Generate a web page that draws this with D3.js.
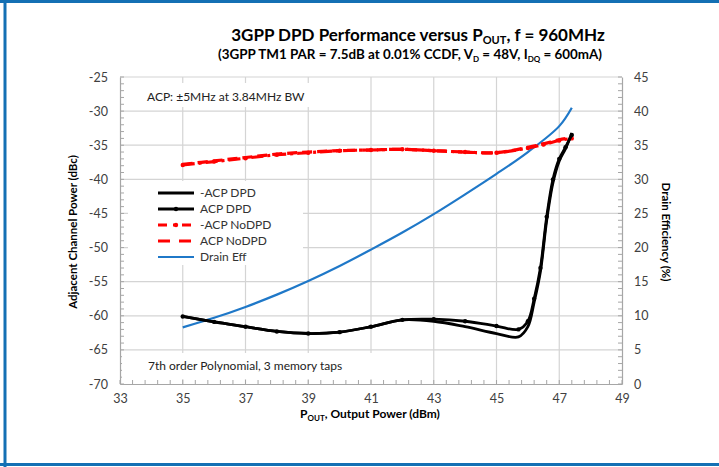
<!DOCTYPE html>
<html><head><meta charset="utf-8">
<script src="https://cdn.jsdelivr.net/npm/d3@7/dist/d3.min.js"></script>
<style>
body{margin:0;background:#fff;}
svg{display:block;font-family:Lato,"Open Sans",sans-serif;}
</style></head>
<body><svg id="c" width="719" height="467"></svg>
<script>
// ---- data ----
const xTicks = [33,35,37,39,41,43,45,47,49];
const yLeftTicks = [-70,-65,-60,-55,-50,-45,-40,-35,-30,-25];
const yRightTicks = [0,5,10,15,20,25,30,35,40,45];

const dpdPout = [35,36,37,38,39,40,41,42,43,44,45,45.7,46.0,46.2,46.4,46.6,46.8,47.0,47.2,47.4];
const acpDpdNeg = [-60.1,-60.9,-61.6,-62.3,-62.6,-62.4,-61.6,-60.6,-60.8,-61.6,-62.6,-63.1,-61.6,-58.0,-53.5,-46.0,-40.5,-37.3,-35.5,-33.2];
const acpDpdPos = [-60.1,-60.9,-61.6,-62.3,-62.6,-62.4,-61.6,-60.6,-60.5,-60.8,-61.5,-62.0,-60.8,-57.5,-53.0,-45.5,-40.0,-37.0,-35.3,-33.5];

const noDpdPout = [35,36,37,38,39,40,41,42,43,44,45,46,46.5,47,47.4];
const acpNoDpdNeg = [-37.9,-37.4,-36.9,-36.4,-36.1,-35.8,-35.7,-35.6,-35.8,-36.0,-36.1,-35.4,-34.9,-34.3,-34.0];
const acpNoDpdPos = [-37.8,-37.3,-36.8,-36.3,-36.0,-35.8,-35.7,-35.6,-35.8,-36.0,-36.1,-35.3,-34.8,-34.2,-33.9];

const effPout = [35,36,37,38,39,40,41,42,43,44,45,46,47,47.4];
const drainEff = [8.3,9.7,11.3,13.1,15.1,17.3,19.7,22.2,24.9,27.8,30.8,34.0,37.8,40.5];

// ---- layout ----
const svg = d3.select("#c");
const x = d3.scaleLinear().domain([33,49]).range([120,622]);
const yL = d3.scaleLinear().domain([-70,-25]).range([384,77]);
const yR = d3.scaleLinear().domain([0,45]).range([384,77]);
const gridC = "#d4d4d4", axC = "#a6a6a6", txtC = "#404040";

// frame
svg.append("rect").attr("x",0).attr("y",0).attr("width",719).attr("height",467).attr("fill","#fff");
svg.append("line").attr("x1",0).attr("x2",719).attr("y1",1.5).attr("y2",1.5).attr("stroke","#1470b4").attr("stroke-width",3);
svg.append("line").attr("x1",5).attr("x2",5).attr("y1",0).attr("y2",467).attr("stroke","#1470b4").attr("stroke-width",3);
svg.append("line").attr("x1",0).attr("x2",719).attr("y1",464.5).attr("y2",464.5).attr("stroke","#1470b4").attr("stroke-width",3);

// grid
const g = svg.append("g");
g.selectAll(".vg").data(xTicks.slice(1,-1)).join("line")
  .attr("x1",d=>x(d)).attr("x2",d=>x(d)).attr("y1",yL(-25)).attr("y2",yL(-70))
  .attr("stroke",gridC).attr("stroke-width",1.2);
g.selectAll(".hg").data(yLeftTicks.slice(1)).join("line")
  .attr("x1",x(33)).attr("x2",x(49)).attr("y1",d=>yL(d)).attr("y2",d=>yL(d))
  .attr("stroke",gridC).attr("stroke-width",1.2);

// axes
const fmt = d=>String(d);
const axL = d3.axisLeft(yL).tickValues(yLeftTicks).tickFormat(fmt).tickSize(0).tickPadding(12);
const axR = d3.axisRight(yR).tickValues(yRightTicks).tickFormat(fmt).tickSize(0).tickPadding(12);
const axB = d3.axisBottom(x).tickValues(xTicks).tickFormat(fmt).tickSize(0).tickPadding(10);
function style(sel){
  sel.select(".domain").attr("stroke",axC).attr("stroke-width",1.2);
  sel.selectAll("text").attr("fill",txtC).attr("font-size","12.5px").attr("font-family","Lato,sans-serif");
}
svg.append("g").attr("transform",`translate(${x(33)},0)`).call(axL).call(style);
svg.append("g").attr("transform",`translate(${x(49)},0)`).call(axR).call(style);
svg.append("g").attr("transform",`translate(0,${yL(-70)})`).call(axB).call(style);

// minor ticks
const minorL = d3.range(-70,-24,1), minorR = d3.range(0,46,1), minorX = d3.range(33,49.01,0.4);
svg.append("g").selectAll("line").data(minorL).join("line")
  .attr("x1",x(33)).attr("x2",x(33)+4).attr("y1",d=>yL(d)).attr("y2",d=>yL(d)).attr("stroke",axC);
svg.append("g").selectAll("line").data(minorR).join("line")
  .attr("x1",x(49)).attr("x2",x(49)-4).attr("y1",d=>yR(d)).attr("y2",d=>yR(d)).attr("stroke",axC);
svg.append("g").selectAll("line").data(minorX).join("line")
  .attr("x1",d=>x(d)).attr("x2",d=>x(d)).attr("y1",yL(-70)).attr("y2",yL(-70)-4).attr("stroke",axC);

// annotation boxes (cover grid)
svg.append("rect").attr("x",124).attr("y",83).attr("width",222).attr("height",24).attr("fill","#fff");
svg.append("text").attr("x",147).attr("y",101).attr("font-size","12px").attr("fill","#222").text("ACP: ±5MHz at 3.84MHz BW");
svg.append("rect").attr("x",122).attr("y",353).attr("width",290).attr("height",26).attr("fill","#fff");
svg.append("text").attr("x",148).attr("y",370).attr("font-size","12px").attr("fill","#222").text("7th order Polynomial, 3 memory taps");

// lines
const crv = d3.curveCatmullRom.alpha(0.5);
const lineL = (xs,ys)=>d3.line().curve(crv).x((d,i)=>x(xs[i])).y(d=>yL(d))(ys);
const lineR = (xs,ys)=>d3.line().curve(crv).x((d,i)=>x(xs[i])).y(d=>yR(d))(ys);

const plot = svg.append("g");
plot.append("path").attr("d",lineR(effPout,drainEff)).attr("fill","none").attr("stroke","#1f78c8").attr("stroke-width",2.2);
plot.append("path").attr("d",lineL(noDpdPout,acpNoDpdPos)).attr("fill","none").attr("stroke","#ff0000").attr("stroke-width",3.2).attr("stroke-dasharray","10,5");
plot.append("path").attr("d",lineL(noDpdPout,acpNoDpdNeg)).attr("fill","none").attr("stroke","#ff0000").attr("stroke-width",3.2).attr("stroke-dasharray","12,4,3,4");
plot.selectAll(".mn").data(acpNoDpdNeg).join("circle").attr("cx",(d,i)=>x(noDpdPout[i])).attr("cy",d=>yL(d)).attr("r",2.2).attr("fill","#ff0000");
plot.append("path").attr("d",lineL(dpdPout,acpDpdNeg)).attr("fill","none").attr("stroke","#000").attr("stroke-width",2.8);
plot.append("path").attr("d",lineL(dpdPout,acpDpdPos)).attr("fill","none").attr("stroke","#000").attr("stroke-width",2.8);
plot.selectAll(".md").data(acpDpdPos).join("circle").attr("cx",(d,i)=>x(dpdPout[i])).attr("cy",d=>yL(d)).attr("r",2.2).attr("fill","#000");

// legend
const lg = svg.append("g");
lg.append("rect").attr("x",128).attr("y",181).attr("width",175).attr("height",84).attr("fill","#fff");
const legItems = [
  {name:"-ACP DPD", color:"#000", dash:null, marker:false},
  {name:"ACP DPD", color:"#000", dash:null, marker:true},
  {name:"-ACP NoDPD", color:"#ff0000", dash:"9,6,3,6", marker:true},
  {name:"ACP NoDPD", color:"#ff0000", dash:"12,9", marker:false},
  {name:"Drain Eff", color:"#1f78c8", dash:null, marker:false}
];
legItems.forEach((it,i)=>{
  const yy = 193 + i*16;
  const ln = lg.append("line").attr("x1",158).attr("x2",194).attr("y1",yy).attr("y2",yy)
    .attr("stroke",it.color).attr("stroke-width",it.color==="#1f78c8"?2.2:2.8);
  if(it.dash) ln.attr("stroke-dasharray",it.dash);
  if(it.marker) lg.append("circle").attr("cx",176).attr("cy",yy).attr("r",2.2).attr("fill",it.color);
  lg.append("text").attr("x",200).attr("y",yy+4).attr("font-size","12px").attr("fill","#333").text(it.name);
});

// titles
const t = svg.append("text").attr("x",418).attr("y",41).attr("text-anchor","middle")
  .attr("font-size","17px").attr("font-weight","bold").attr("fill","#000");
t.append("tspan").text("3GPP DPD Performance versus P");
t.append("tspan").attr("font-size","11px").attr("dy",3).text("OUT");
t.append("tspan").attr("dy",-3).text(", f = 960MHz");

const st = svg.append("text").attr("x",410).attr("y",59).attr("text-anchor","middle")
  .attr("font-size","13.4px").attr("font-weight","bold").attr("fill","#000");
st.append("tspan").text("(3GPP TM1 PAR = 7.5dB at 0.01% CCDF, V");
st.append("tspan").attr("font-size","8px").attr("dy",3).text("D");
st.append("tspan").attr("dy",-3).text(" = 48V, I");
st.append("tspan").attr("font-size","8px").attr("dy",3).text("DQ");
st.append("tspan").attr("dy",-3).text(" = 600mA)");

const xt = svg.append("text").attr("x",370).attr("y",418).attr("text-anchor","middle")
  .attr("font-size","12px").attr("font-weight","bold").attr("fill","#000");
xt.append("tspan").text("P");
xt.append("tspan").attr("font-size","8px").attr("dy",3).text("OUT");
xt.append("tspan").attr("dy",-3).text(", Output Power (dBm)");

svg.append("text").attr("transform","translate(77,232) rotate(-90)").attr("text-anchor","middle")
  .attr("font-size","11.5px").attr("font-weight","bold").attr("fill","#000").text("Adjacent Channel Power (dBc)");
svg.append("text").attr("transform","translate(662,232) rotate(90)").attr("text-anchor","middle")
  .attr("font-size","11.5px").attr("font-weight","bold").attr("fill","#000").text("Drain Efficiency (%)");
</script></body></html>
